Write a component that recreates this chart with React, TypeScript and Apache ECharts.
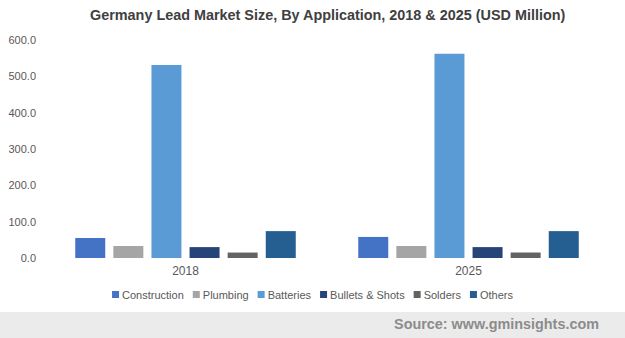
import React, { useEffect, useRef } from "react";
import * as echarts from "echarts";

const years = ["2018", "2025"];
const seriesNames = ["Construction", "Plumbing", "Batteries", "Bullets & Shots", "Solders", "Others"];
const construction = [55, 58];
const plumbing = [33, 33];
const batteries = [531, 562];
const bullets = [30, 30];
const solders = [15, 15];
const others = [74, 74];
const colors = ["#4472C4", "#A5A5A5", "#5B9BD5", "#264478", "#636363", "#255E91"];
const yTicks = { min: 0, max: 600, interval: 100 };

const FONT = "'Liberation Sans', Arial, sans-serif";

export default function App() {
  const ref = useRef<HTMLDivElement>(null);
  useEffect(() => {
    document.body.style.margin = "0";
    const chart = echarts.init(ref.current!, undefined, { renderer: "svg" });
    const values = [construction, plumbing, batteries, bullets, solders, others];
    chart.setOption({
      animation: false,
      textStyle: { fontFamily: FONT },
      title: {
        text: "Germany Lead Market Size, By Application, 2018 & 2025 (USD Million)",
        left: 85,
        top: 3,
        textStyle: { fontSize: 14.4, fontWeight: "bold", color: "#404040", fontFamily: FONT },
      },
      legend: {
        data: seriesNames,
        top: 284,
        left: "center",
        itemWidth: 7,
        itemHeight: 7,
        itemGap: 9,
        icon: "rect",
        textStyle: { fontSize: 11, color: "#595959", fontFamily: FONT, padding: [0, 0, 0, -2] },
      },
      grid: { left: 44, right: 15, top: 40, height: 218 },
      xAxis: {
        type: "category",
        data: years,
        axisLine: { show: false },
        axisTick: { show: false },
        axisLabel: { fontSize: 12, color: "#595959", margin: 7 },
      },
      yAxis: {
        type: "value",
        min: yTicks.min,
        max: yTicks.max,
        interval: yTicks.interval,
        splitLine: { show: false },
        axisLine: { show: false },
        axisTick: { show: false },
        axisLabel: {
          fontSize: 11,
          color: "#595959",
          margin: 8,
          formatter: (v: number) => v.toFixed(1),
        },
      },
      series: seriesNames.map((name, i) => ({
        name,
        type: "bar",
        data: values[i],
        barWidth: 30,
        barGap: "27%",
        itemStyle: { color: colors[i] },
      })),
      graphic: [
        {
          type: "rect",
          shape: { x: 0, y: 312, width: 625, height: 26 },
          style: { fill: "#EBEBEB" },
          silent: true,
        },
        {
          type: "text",
          right: 26,
          top: 317,
          style: {
            text: "Source: www.gminsights.com",
            fill: "#8C8C8C",
            font: `bold 14.4px ${FONT}`,
          },
        },
      ],
    });
    return () => chart.dispose();
  }, []);
  return <div ref={ref} style={{ width: 625, height: 338 }} />;
}
